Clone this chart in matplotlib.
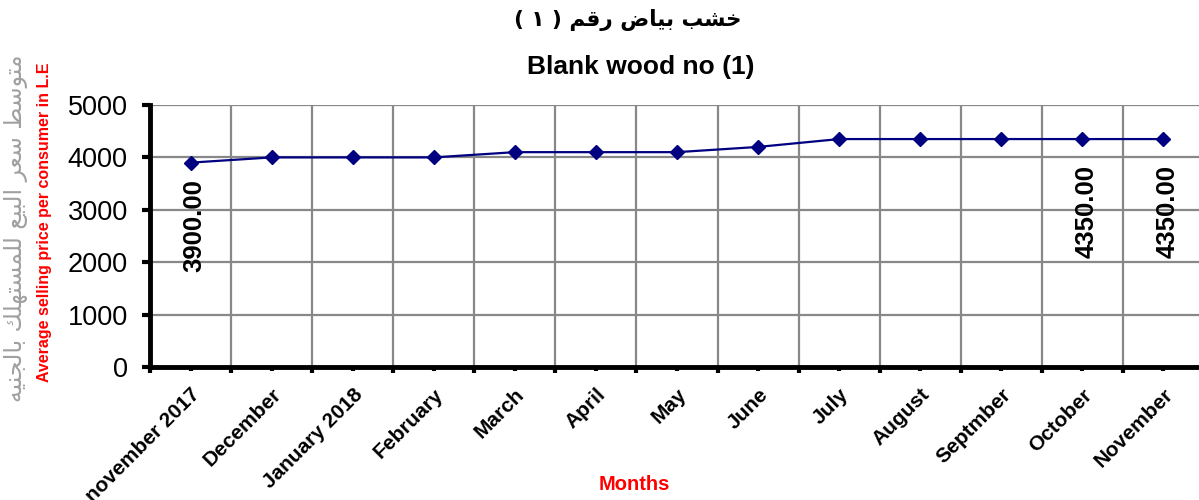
import matplotlib
matplotlib.use("Agg")
import matplotlib.pyplot as plt
import numpy as np
from matplotlib.ticker import FixedLocator, NullFormatter

months = ["november 2017", "December", "January 2018", "February", "March", "April",
          "May", "June", "July", "August", "Septmber", "October", "November"]
prices = [3900, 4000, 4000, 4000, 4100, 4100, 4100, 4200, 4350, 4350, 4350, 4350, 4350]
labeled_idx = [0, 11, 12]
yticks = [0, 1000, 2000, 3000, 4000, 5000]

# Arabic text (pre-shaped presentation forms, visual order)
title_ar = "( \u0661 ) " + "\uFEE2\uFED7\uFEAD" + " " + "\uFEBD\uFE8E\uFEF4\uFE91" + " " + "\uFE90\uFEB8\uFEA7"
ylabel_ar = " ".join([
    "\uFEEA\uFEF4\uFEE8\uFEA0\uFEDF\uFE8E\uFE91",
    "\uFEDA\uFEE0\uFEEC\uFE98\uFEB4\uFEE4\uFEE0\uFEDF",
    "\uFECA\uFEF4\uFE92\uFEDF\uFE8D",
    "\uFEAE\uFECC\uFEB3",
    "\uFEC2\uFEB3\uFEEE\uFE98\uFEE3",
])

plt.rcParams['font.family'] = ['Liberation Sans', 'DejaVu Sans']

fig = plt.figure(figsize=(11.99, 5.0), dpi=100)
x0 = 150 / 1199
x1 = 1204 / 1199
y0 = 1 - 367 / 500
y1 = 1 - 105 / 500
ax = fig.add_axes([x0, y0, x1 - x0, y1 - y0])

n = len(months)
x = np.arange(n)
ax.plot(x, prices, color="#000080", linewidth=1.6, marker="D", markersize=7.5,
        markerfacecolor="#000080", markeredgecolor="#000080", zorder=3, clip_on=False)

ax.set_xlim(-0.5, n - 0.5)
ax.set_ylim(0, 5000)

ax.xaxis.set_major_locator(FixedLocator(np.arange(-0.5, n, 1.0)))
ax.xaxis.set_major_formatter(NullFormatter())
ax.set_xticks(x, minor=True)
ax.set_xticklabels(months, minor=True, rotation=45, ha="right", va="top",
                   rotation_mode="anchor", fontsize=15, fontweight="bold")
ax.set_yticks(yticks)
ax.set_yticklabels([str(v) for v in yticks], fontsize=19.5)

ax.grid(True, which="major", axis="both", color="#888888", linewidth=1.6, zorder=0)
ax.set_axisbelow(True)

ax.tick_params(axis="x", which="major", direction="out", length=4, width=3, color="black")
ax.tick_params(axis="x", which="minor", direction="out", length=3, width=3, color="black", pad=10)
ax.tick_params(axis="y", which="major", direction="out", length=6, width=3, color="black", pad=10)

for s in ["top", "right"]:
    ax.spines[s].set_visible(False)
ax.spines["left"].set_linewidth(3.5)
ax.spines["bottom"].set_linewidth(3.5)

# data labels
label_offsets = [-12, -19, -19]
for i, off in zip(labeled_idx, label_offsets):
    ax.annotate(f"{prices[i]:.2f}", xy=(x[i], prices[i]), xytext=(3, off),
                textcoords="offset points", rotation=90, ha="center", va="top",
                fontsize=18.5, fontweight="bold", color="black")

# titles
fig.text(628 / 1199, 1 - 20 / 500, title_ar, ha="center", va="center",
         fontsize=15.5, fontweight="bold", family=["DejaVu Sans"])
fig.text(641 / 1199, 1 - 67 / 500, "Blank wood no (1)", ha="center", va="center",
         fontsize=19, fontweight="bold")

# y labels
fig.text(45 / 1199, 1 - 222 / 500, "Average selling price per consumer in L.E",
         rotation=90, ha="center", va="center", fontsize=11.5, fontweight="bold", color="red")
fig.text(16 / 1199, 1 - 228 / 500, ylabel_ar, rotation=90, ha="center", va="center",
         fontsize=17, color="#a0a0a0", family=["DejaVu Sans"])

# x label
fig.text(634 / 1199, 1 - 484 / 500, "Months", ha="center", va="center",
         fontsize=14.5, fontweight="bold", color="red")

fig.savefig("out.png", dpi=100)
